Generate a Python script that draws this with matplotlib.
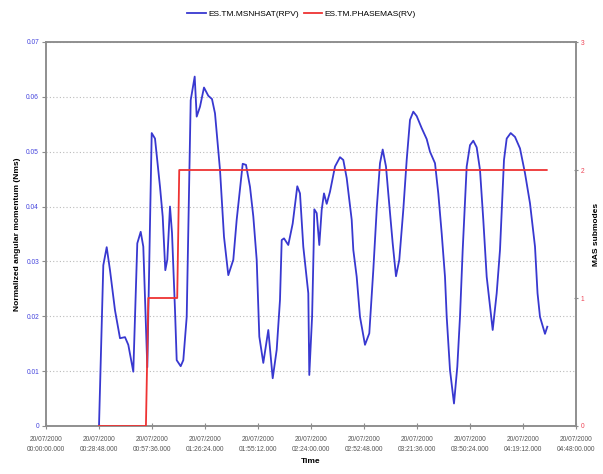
import matplotlib
matplotlib.use("Agg")
import matplotlib.pyplot as plt
from matplotlib.ticker import FixedLocator

plt.rcParams['font.family'] = ['Liberation Sans', 'DejaVu Sans']

# Elapsed time in minutes since 20/07/2000 00:00:00
msnhsat_t = [28.80, 31.14, 32.98, 34.78, 37.49, 40.21, 42.93, 44.72, 47.44, 49.61,
             51.46, 52.87, 55.05, 57.44, 59.23, 61.95, 63.41, 64.83, 65.91, 67.38,
             68.47, 70.10, 71.02, 73.19, 74.61, 76.46, 78.63, 80.80, 81.89, 83.68,
             85.85, 88.19, 90.20, 91.83, 94.55, 96.72, 99.06, 101.78, 103.62, 106.89,
             108.68, 110.85, 112.65, 114.49, 115.91, 118.08, 120.80, 123.19, 125.36, 127.15,
             128.08, 129.33, 131.66, 134.05, 136.55, 138.02, 139.81, 142.53, 143.07, 144.60,
             145.40, 145.80, 147.10, 148.51, 149.81, 151.06, 152.53, 154.32, 157.04, 159.76,
             161.55, 163.40, 166.11, 166.99, 168.83, 170.62, 173.34, 175.68, 177.85, 179.80,
             181.49, 182.96, 184.75, 186.00, 188.39, 190.19, 191.98, 194.15, 196.00, 197.79,
             199.59, 201.43, 204.15, 206.87, 208.66, 211.38, 213.17, 215.02, 216.81, 217.74,
             219.53, 221.70, 223.50, 224.96, 226.43, 228.60, 230.40, 232.19, 234.03, 235.83,
             237.62, 239.47, 242.73, 244.90, 246.70, 248.87, 250.34, 252.51, 254.85, 257.57,
             260.28, 263.00, 265.72, 267.10, 268.43, 271.15, 272.40]
msnhsat_v = [0.0000, 0.0293, 0.0326, 0.0284, 0.0211, 0.0160, 0.0162, 0.0148, 0.0099, 0.0333,
             0.0354, 0.0327, 0.0107, 0.0534, 0.0524, 0.0436, 0.0382, 0.0284, 0.0303, 0.0400,
             0.0352, 0.0211, 0.0120, 0.0109, 0.0120, 0.0199, 0.0594, 0.0637, 0.0564, 0.0582,
             0.0617, 0.0602, 0.0596, 0.0570, 0.0467, 0.0345, 0.0275, 0.0303, 0.0376, 0.0478,
             0.0476, 0.0436, 0.0382, 0.0303, 0.0163, 0.0115, 0.0175, 0.0087, 0.0139, 0.0230,
             0.0339, 0.0342, 0.0330, 0.0369, 0.0437, 0.0424, 0.0327, 0.0242, 0.0093, 0.0200,
             0.0321, 0.0395, 0.0388, 0.0330, 0.0394, 0.0424, 0.0405, 0.0427, 0.0473, 0.0490,
             0.0485, 0.0452, 0.0376, 0.0321, 0.0272, 0.0199, 0.0148, 0.0169, 0.0284, 0.0400,
             0.0479, 0.0504, 0.0473, 0.0424, 0.0333, 0.0273, 0.0303, 0.0394, 0.0485, 0.0558,
             0.0573, 0.0565, 0.0543, 0.0523, 0.0500, 0.0479, 0.0424, 0.0351, 0.0272, 0.0199,
             0.0102, 0.0041, 0.0108, 0.0199, 0.0321, 0.0473, 0.0512, 0.0520, 0.0508, 0.0467,
             0.0376, 0.0272, 0.0175, 0.0242, 0.0321, 0.0485, 0.0524, 0.0534, 0.0527, 0.0506,
             0.0461, 0.0406, 0.0327, 0.0242, 0.0199, 0.0168, 0.0181]

phasemas_t = [28.8, 54.3, 55.6, 71.3, 72.4, 272.1]
phasemas_v = [0, 0, 1, 1, 2, 2]

x_ticks = [0, 28.8, 57.6, 86.4, 115.2, 144.0, 172.8, 201.6, 230.4, 259.2, 288.0]
y_left_ticks = [0, 0.01, 0.02, 0.03, 0.04, 0.05, 0.06, 0.07]
y_left_labels = ['0', '0.01', '0.02', '0.03', '0.04', '0.05', '0.06', '0.07']
y_right_ticks = [0, 1, 2, 3]


def time_label(minutes):
    secs = int(round(minutes * 60))
    h, rem = divmod(secs, 3600)
    m, s = divmod(rem, 60)
    return "20/07/2000\n%02d:%02d:%02d.000" % (h, m, s)


blue = '#3838D0'
red = '#EE3333'
spine_col = '#8C8C8C'

fig = plt.figure(figsize=(6.03, 4.74), dpi=100)
ax = fig.add_axes([46 / 603, 48 / 474, 530 / 603, 384 / 474])
ax2 = ax.twinx()

l1, = ax.plot(msnhsat_t, msnhsat_v, color=blue, lw=1.3, label='ES.TM.MSNHSAT(RPV)',
              zorder=3, solid_joinstyle='round')
l2, = ax2.plot(phasemas_t, phasemas_v, color=red, lw=1.3, label='ES.TM.PHASEMAS(RV)', zorder=3)

ax.set_xlim(0, 288)
ax.set_ylim(0, 0.07)
ax2.set_ylim(0, 3)

ax.xaxis.set_major_locator(FixedLocator(x_ticks))
ax.set_xticklabels([time_label(t) for t in x_ticks], fontsize=4.8, color='#555555',
                   linespacing=1.6)
ax.set_yticks(y_left_ticks)
ax.set_yticklabels(y_left_labels, fontsize=4.8, color='#4444DD')
ax2.set_yticks(y_right_ticks)
ax2.set_yticklabels([str(v) for v in y_right_ticks], fontsize=4.8, color='#EE4455')

ax.grid(axis='y', linestyle=(0, (1, 2)), color='#BBBBBB', lw=0.8)
ax.set_axisbelow(True)

for a in (ax, ax2):
    for sp in a.spines.values():
        sp.set_color(spine_col)
        sp.set_linewidth(1.1)
ax.tick_params(axis='both', length=3, width=0.8, color=spine_col, pad=2)
ax.tick_params(axis='x', direction='inout', length=4, pad=5)
ax2.tick_params(axis='y', length=3, width=0.8, color=spine_col, pad=2, direction='inout')

ax.set_xlabel('Time', fontsize=6, fontweight='bold', labelpad=4)
ax.set_ylabel('Normalized angular momentum (Nms)', fontsize=6, fontweight='bold', labelpad=4)
ax2.set_ylabel('MAS submodes', fontsize=6, fontweight='bold', labelpad=6)

fig.legend(handles=[l1, l2], loc='upper center', bbox_to_anchor=(0.5, 0.995), ncol=2,
           frameon=False, fontsize=6, handlelength=2.2, handletextpad=0.3, columnspacing=0.6)

fig.savefig('out.png', dpi=100)
